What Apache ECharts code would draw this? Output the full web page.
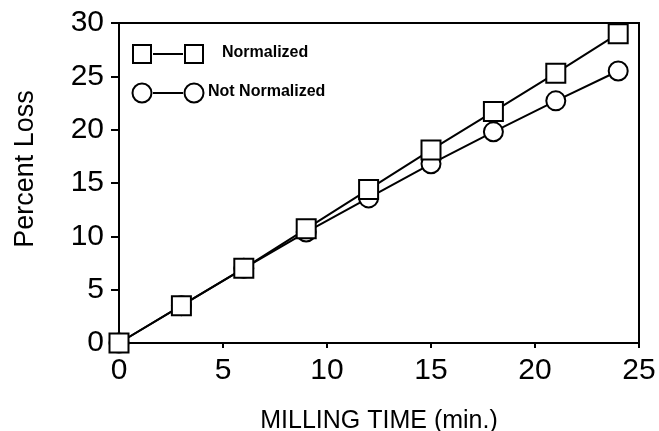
<!DOCTYPE html>
<html>
<head>
<meta charset="utf-8">
<script src="https://cdn.jsdelivr.net/npm/echarts@6/dist/echarts.min.js"></script>
<style>
  html, body { margin: 0; padding: 0; background: #fff; }
  #chart { width: 659px; height: 431px; }
</style>
</head>
<body>
<div id="chart"></div>
<script>
// milling time in minutes
const millingTime = [0, 3, 6, 9, 12, 15, 18, 21, 24];
// percent loss
const normalized = [0, 3.5, 7.0, 10.7, 14.4, 18.1, 21.7, 25.3, 29.0];
const notNormalized = [0, 3.5, 7.0, 10.4, 13.6, 16.8, 19.8, 22.7, 25.5];

const pairs = (xs, ys) => xs.map((x, i) => [x, ys[i]]);

const chart = echarts.init(document.getElementById("chart"));
const font = "Liberation Sans, Arial, sans-serif";

const options = {
  animation: false,
  grid: {
    left: 119,
    right: 20,
    top: 23,
    bottom: 88,
    outerBoundsMode: "none",
    show: true,
    borderColor: "#000",
    borderWidth: 2,
  },
  xAxis: {
    type: "value",
    min: 0,
    max: 25,
    interval: 5,
    name: "MILLING TIME (min.)",
    nameLocation: "middle",
    nameGap: 66,
    nameTextStyle: { fontFamily: font, fontSize: 25, color: "#000" },
    axisLine: { lineStyle: { color: "#000", width: 2 } },
    axisTick: { length: 5, lineStyle: { color: "#000", width: 2 } },
    axisLabel: { fontFamily: font, fontSize: 30, color: "#000", margin: 13 },
    splitLine: { show: false },
  },
  yAxis: {
    type: "value",
    min: 0,
    max: 30,
    interval: 5,
    name: "Percent Loss",
    nameLocation: "middle",
    nameGap: 80,
    nameTextStyle: { fontFamily: font, fontSize: 27, color: "#000", padding: [0, 0, 0, 28] },
    axisLine: { lineStyle: { color: "#000", width: 2 } },
    axisTick: { length: 8, lineStyle: { color: "#000", width: 2 } },
    axisLabel: { fontFamily: font, fontSize: 30, color: "#000", margin: 15 },
    splitLine: { show: false },
  },
  graphic: [
    // legend row 1
    { type: "rect", shape: { x: 133, y: 45, width: 18, height: 18 }, style: { fill: "#fff", stroke: "#000", lineWidth: 2 } },
    { type: "line", shape: { x1: 153, y1: 54, x2: 183, y2: 54 }, style: { stroke: "#000", lineWidth: 2 } },
    { type: "rect", shape: { x: 185, y: 45, width: 18, height: 18 }, style: { fill: "#fff", stroke: "#000", lineWidth: 2 } },
    { type: "text", left: 222, top: 45, style: { text: "Normalized", font: "bold 16px " + font, fill: "#000" } },
    // legend row 2
    { type: "circle", shape: { cx: 142, cy: 93, r: 9.5 }, style: { fill: "#fff", stroke: "#000", lineWidth: 2 } },
    { type: "line", shape: { x1: 153, y1: 93, x2: 183, y2: 93 }, style: { stroke: "#000", lineWidth: 2 } },
    { type: "circle", shape: { cx: 194, cy: 93, r: 9.5 }, style: { fill: "#fff", stroke: "#000", lineWidth: 2 } },
    { type: "text", left: 208, top: 84, style: { text: "Not Normalized", font: "bold 16px " + font, fill: "#000" } },
  ],
  series: [
    {
      name: "Not Normalized",
      type: "line",
      data: pairs(millingTime, notNormalized),
      symbol: "circle",
      symbolSize: 19,
      showAllSymbol: true,
      lineStyle: { color: "#000", width: 2 },
      itemStyle: { color: "#fff", borderColor: "#000", borderWidth: 2 },
      z: 2,
    },
    {
      name: "Normalized",
      type: "line",
      data: pairs(millingTime, normalized),
      symbol: "rect",
      symbolSize: 19,
      showAllSymbol: true,
      lineStyle: { color: "#000", width: 2 },
      itemStyle: { color: "#fff", borderColor: "#000", borderWidth: 2 },
      z: 3,
    },
  ],
};

chart.setOption(options);
</script>
</body>
</html>
